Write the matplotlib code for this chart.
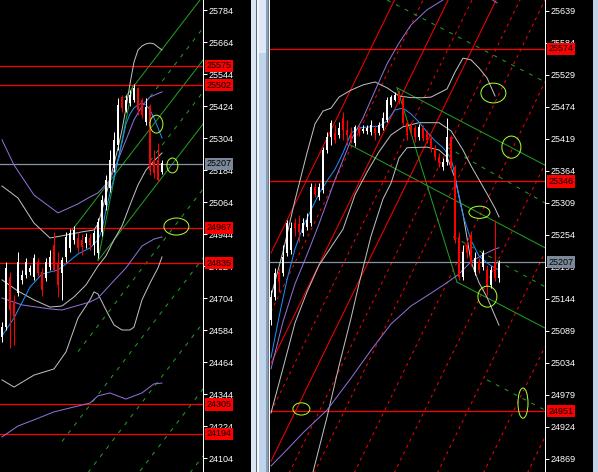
from matplotlib import pyplot as plt
from matplotlib.patches import Ellipse, Rectangle
import numpy as np

plt.rcParams['font.family'] = ['Liberation Sans', 'DejaVu Sans']
plt.rcParams['font.size'] = 6.5

W, H = 598, 472

# ---------------- left chart ----------------
l_open = [24558, 24595, 24783, 24685, 24723, 24772, 24790, 24802, 24783, 24839, 24802, 24779, 24820, 24903,
          24835, 24798, 24858, 24892, 24922, 24929, 24922, 24910, 24929, 24903, 24873, 24952, 25053, 25117,
          25192, 25278, 25458, 25409, 25435, 25447, 25492, 25447, 25364, 25424, 25222, 25222, 25177]
l_high = [24614, 24839, 24802, 24715, 24877, 24809, 24854, 24828, 24869, 24854, 24817, 24854, 24884, 24952,
          24877, 24858, 24952, 24963, 24974, 24952, 24944, 24948, 24944, 24959, 25004, 25090, 25165, 25259,
          25327, 25454, 25465, 25465, 25484, 25507, 25495, 25454, 25454, 25432, 25259, 25285, 25222]
l_low = [24539, 24584, 24517, 24528, 24712, 24757, 24779, 24790, 24772, 24787, 24712, 24768, 24809, 24802,
         24708, 24697, 24839, 24877, 24907, 24877, 24865, 24892, 24884, 24865, 24854, 24937, 25034, 25102,
         25177, 25259, 25402, 25402, 25424, 25439, 25390, 25379, 25353, 25165, 25154, 25139, 25169]
l_close = [24595, 24817, 24659, 24633, 24839, 24790, 24839, 24817, 24854, 24798, 24734, 24839, 24858, 24809,
           24753, 24847, 24933, 24948, 24959, 24892, 24895, 24933, 24903, 24948, 24989, 25072, 25146, 25221,
           25297, 25428, 25417, 25447, 25465, 25492, 25409, 25390, 25420, 25184, 25173, 25147, 25210]

l_up_x = [0, 4, 8, 12, 16, 20, 23, 24, 25, 26, 27, 28, 29, 30, 31, 32, 33, 34, 35, 36, 37, 38, 39, 40]
l_up = [25124, 25079, 24985, 24929, 24940, 24952, 24959, 24982, 25034, 25090, 25147, 25207, 25267, 25334,
        25417, 25507, 25589, 25634, 25649, 25657, 25660, 25657, 25645, 25634]
l_mid_x = [0, 4, 8, 12, 15, 18, 21, 24, 26, 28, 30, 32, 34, 36, 38, 40]
l_mid = [24772, 24730, 24697, 24670, 24674, 24708, 24753, 24824, 24862, 24922, 24974, 25053, 25128, 25184,
         25218, 25248]
l_lo_x = [0, 3, 8, 13, 16, 19, 22, 23, 24, 26, 28, 30, 32, 33, 35, 37, 39, 40]
l_lo = [24397, 24370, 24415, 24438, 24502, 24629, 24697, 24727, 24719, 24659, 24603, 24584, 24584, 24595,
        24697, 24760, 24817, 24858]
l_ma_x = [0, 3, 7, 10, 14, 16, 19, 22, 24, 25, 26, 27, 28, 29, 30, 31, 32, 33, 34, 35, 36, 37, 38, 39, 40]
l_ma = [24562, 24629, 24745, 24794, 24809, 24832, 24869, 24892, 24922, 24959, 25034, 25098, 25154, 25222,
        25285, 25357, 25394, 25417, 25428, 25435, 25428, 25409, 25379, 25342, 25304]
l_p1_x = [0, 3, 8, 14, 19, 22, 24, 27, 30, 33, 35, 37, 40]
l_p1 = [25297, 25203, 25090, 25023, 25057, 25083, 25098, 25147, 25259, 25372, 25424, 25458, 25477]
l_p2_x = [0, 5, 12, 15, 22, 24, 27, 31, 35, 38, 40]
l_p2 = [24704, 24678, 24663, 24659, 24689, 24704, 24753, 24817, 24899, 24925, 24933]
l_p3_x = [0, 4, 8, 13, 19, 22, 24, 27, 31, 35, 38, 40]
l_p3 = [24183, 24224, 24247, 24277, 24299, 24310, 24337, 24348, 24325, 24348, 24382, 24385]

# trend lines: (bar1, price1, bar2, price2)
l_solid = [(24, 24846, 32.75, 25503), (30.75, 25456, 50.75, 25846),
           (17.5, 24958, 50.75, 25606), (24, 24844, 50.75, 25366)]
l_dashed = [(37, 25458, 50.75, 25726), (37, 25218, 50.75, 25486), (19, 24503, 50.75, 25122),
            (15, 24166, 50.75, 24863), (21.5, 24049, 50.75, 24620), (34.5, 24055, 50.75, 24372),
            (47, 24048, 50.75, 24121)]
l_ellipses = [(38.6, 25356, 3.25, 67), (42.6, 25201, 2.75, 56), (43.6, 24972, 6.25, 64)]

l_ticks = [24104, 24224, 24344, 24464, 24584, 24704, 24824, 24944, 25064, 25184, 25304, 25424, 25544,
           25664, 25784]
l_levels = [25575, 25502, 24967, 24835, 24305, 24194]
l_last = 25207

# ---------------- right chart ----------------
r_open = [25108, 25147, 25190, 25188, 25223, 25228, 25275, 25273, 25257, 25268, 25275, 25337, 25319, 25331,
          25400, 25422, 25429, 25426, 25455, 25435, 25429, 25412, 25438, 25433, 25433, 25431, 25438, 25429,
          25438, 25452, 25477, 25486, 25495, 25489, 25447, 25443, 25438, 25422, 25438, 25431, 25421, 25404,
          25388, 25371, 25380, 25422, 25371, 25250, 25182, 25237, 25254, 25190, 25208, 25199, 25194, 25168,
          25206, 25180]
r_high = [25160, 25197, 25197, 25236, 25280, 25276, 25283, 25288, 25283, 25292, 25343, 25343, 25343, 25405,
          25431, 25452, 25443, 25448, 25465, 25452, 25440, 25443, 25443, 25443, 25443, 25452, 25443, 25448,
          25465, 25491, 25495, 25500, 25503, 25493, 25452, 25448, 25443, 25445, 25443, 25434, 25426, 25409,
          25395, 25386, 25455, 25426, 25374, 25259, 25237, 25245, 25259, 25224, 25215, 25228, 25202, 25201,
          25280, 25211]
r_low = [25099, 25142, 25156, 25183, 25218, 25221, 25252, 25242, 25252, 25263, 25270, 25319, 25314, 25326,
         25395, 25408, 25412, 25420, 25417, 25409, 25412, 25407, 25424, 25429, 25428, 25426, 25417, 25426,
         25434, 25448, 25474, 25484, 25479, 25443, 25417, 25426, 25414, 25417, 25416, 25412, 25397, 25383,
         25371, 25366, 25374, 25366, 25240, 25177, 25177, 25214, 25200, 25185, 25189, 25194, 25151, 25163,
         25175, 25173]
r_close = [25147, 25188, 25173, 25216, 25275, 25266, 25266, 25259, 25275, 25280, 25337, 25324, 25337, 25400,
           25422, 25446, 25417, 25438, 25435, 25426, 25417, 25440, 25429, 25436, 25438, 25443, 25429, 25443,
           25455, 25486, 25491, 25495, 25486, 25447, 25431, 25434, 25422, 25440, 25421, 25417, 25404, 25388,
           25378, 25380, 25422, 25371, 25245, 25182, 25225, 25223, 25206, 25214, 25194, 25223, 25165, 25194,
           25180, 25206]

r_ma_x = [0, 2, 4, 6, 8, 10, 12, 14, 16, 18, 20, 22, 25, 27, 29, 31, 33, 35, 37, 39, 41, 43, 45, 46, 47, 48,
          50, 52, 54, 56, 57]
r_ma = [25043, 25113, 25177, 25230, 25268, 25297, 25325, 25347, 25367, 25395, 25429, 25438, 25440, 25441,
        25450, 25469, 25472, 25462, 25448, 25431, 25416, 25404, 25386, 25357, 25319, 25288, 25245, 25218,
        25206, 25197, 25194]
r_up_x = [0, 3, 6, 9, 11, 13, 15, 17, 20, 23, 26, 29, 32, 35, 38, 40, 42, 44, 46, 48, 50, 52, 54, 56]
r_up = [25149, 25225, 25314, 25395, 25445, 25467, 25472, 25491, 25503, 25512, 25517, 25507, 25493, 25490,
        25490, 25491, 25498, 25505, 25534, 25558, 25555, 25541, 25524, 25493]
r_mid_x = [0, 3, 6, 9, 12, 15, 18, 21, 24, 27, 30, 33, 37, 42, 45, 48, 50, 52, 54, 56, 57]
r_mid = [24948, 25025, 25103, 25156, 25202, 25233, 25264, 25323, 25362, 25397, 25426, 25440, 25447, 25447,
         25433, 25400, 25373, 25349, 25325, 25300, 25285]
r_lo_x = [10, 11, 14, 17, 20, 22, 25, 28, 30, 32, 34, 39, 42, 44, 46, 48, 49, 50, 52, 54, 56, 57]
r_lo = [24833, 24860, 24941, 25029, 25111, 25170, 25252, 25316, 25343, 25386, 25404, 25405, 25400, 25388,
        25352, 25290, 25249, 25208, 25172, 25147, 25115, 25099]
r_p1_x = [0, 3, 6, 9, 12, 16, 20, 23, 26, 29, 32, 35, 39, 43, 45]
r_p1 = [25024, 25105, 25170, 25220, 25273, 25349, 25417, 25455, 25502, 25548, 25584, 25615, 25641, 25658, 25667]
r_p2_x = [0, 4, 8, 14, 20, 25, 30, 35, 40, 44, 47, 50, 53, 56, 57]
r_p2 = [24857, 24885, 24914, 24953, 25008, 25056, 25101, 25132, 25154, 25172, 25187, 25208, 25220, 25230, 25232]
r_p3_x = [54.5, 56.5]
r_p3 = [25662, 25653]

r_green_solid = [(31.5, 25507, 68.5, 25374), (31.5, 25507, 46.5, 25173), (46.5, 25173, 68.5, 25094),
                 (19.75, 25409, 68.5, 25232)]
r_green_dashed = [(29, 25658, 68.5, 25517), (44, 25405, 68.5, 25309), (45.5, 25251, 68.5, 25165),
                  (54, 25005, 68.5, 24953)]
r_red_solid = [(0, 25223, 68.5, 26188), (0, 25034, 68.5, 25999), (0, 24865, 68.5, 25830)]
r_red_dashed = [(0, 25122, 68.5, 26087), (0, 24950, 68.5, 25915),
                (0, 24781, 68.5, 25746), (0, 24693, 68.5, 25658), (0, 24552, 68.5, 25517),
                (0, 24411, 68.5, 25376), (0, 24259, 68.5, 25224), (0, 24097, 68.5, 25062),
                (0, 23942, 68.5, 24907)]
r_ellipses = [(55.6, 25498, 6.25, 34), (60.1, 25405, 4.75, 38), (52.1, 25293, 5.25, 21),
              (54.1, 25148, 4.75, 36), (7.6, 24955, 4.25, 21), (63.0, 24965, 2.5, 52)]

r_ticks = [24869, 24924, 24979, 25034, 25089, 25144, 25199, 25254, 25309, 25364, 25419, 25474, 25529,
           25584, 25639]
r_levels = [25574, 25346, 24951]
r_last = 25207

GREEN = '#22a022'
LW = 0.72  # one pixel at 100 dpi
LEVEL_LW = 0.9


def candles(ax, o, h, l, c, min_h):
    o, h, l, c = map(np.asarray, (o, h, l, c))
    x = np.arange(len(o))
    cols = np.where(c >= o, '#ffffff', '#ff0000')
    ax.vlines(x, l, h, colors=cols, lw=LW, zorder=5, snap=True)
    ax.bar(x, np.maximum(np.abs(c - o), min_h), bottom=np.minimum(o, c), width=0.7,
           color=cols, linewidth=0, zorder=6, snap=True)


def segs(ax, lines, color, ls):
    for b1, p1, b2, p2 in lines:
        ax.plot([b1, b2], [p1, p2], color=color, lw=LW, ls=ls, zorder=3)


def style(ax, ticks, levels, last):
    ax.set_facecolor('black')
    for s in ['left', 'top', 'bottom']:
        ax.spines[s].set_visible(False)
    ax.spines['right'].set_color('white')
    ax.spines['right'].set_linewidth(LW)
    ax.yaxis.tick_right()
    ax.set_yticks(ticks)
    ax.set_yticklabels([str(t) for t in ticks])
    ax.tick_params(axis='y', colors='white', length=3, width=LW, pad=1, labelsize=6.5)
    ax.tick_params(axis='x', bottom=False, labelbottom=False)
    tr = ax.get_yaxis_transform()
    for v in levels:
        ax.axhline(v, color='#ff0000', lw=LEVEL_LW, zorder=4)
        ax.annotate(str(v), xy=(1, v), xycoords=tr, xytext=(2.3, 0), textcoords='offset points',
                    ha='left', va='center', color='black', fontsize=6.5, annotation_clip=False,
                    bbox=dict(boxstyle='square,pad=0.18', fc='#ff0000', ec='none'))
    ax.axhline(last, color='#8796a6', lw=LEVEL_LW, zorder=4)
    ax.annotate(str(last), xy=(1, last), xycoords=tr, xytext=(2.3, 0), textcoords='offset points',
                ha='left', va='center', color='black', fontsize=6.5, annotation_clip=False,
                bbox=dict(boxstyle='square,pad=0.18', fc='#7a8899', ec='none'))


fig = plt.figure(figsize=(W / 100, H / 100), dpi=100, facecolor='black')

# left panel
axl = fig.add_axes([0, 0, 203 / W, 1])
axl.set_xlim(-0.5, 50.25)
axl.set_ylim(24051.5, 25821.5)
style(axl, l_ticks, l_levels, l_last)
for xs, ys, col in [(l_up_x, l_up, '#c0c0c0'), (l_mid_x, l_mid, '#c0c0c0'), (l_lo_x, l_lo, '#c0c0c0'),
                    (l_p1_x, l_p1, '#9370db'), (l_p2_x, l_p2, '#9370db'), (l_p3_x, l_p3, '#9370db'),
                    (l_ma_x, l_ma, '#1e90ff')]:
    axl.plot(xs, ys, color=col, lw=LW, zorder=4)
segs(axl, l_solid, GREEN, '-')
segs(axl, l_dashed, GREEN, (0, (4, 6)))
candles(axl, l_open, l_high, l_low, l_close, 4)
for bx, py, w, h in l_ellipses:
    axl.add_patch(Ellipse((bx, py), w, h, fill=False, ec='#adff2f', lw=LW, zorder=8))

# right panel
axr = fig.add_axes([270 / W, 0, 275 / W, 1])
axr.set_xlim(-0.25, 68.5)
axr.set_ylim(24846.6, 25657.9)
style(axr, r_ticks, r_levels, r_last)
segs(axr, r_red_solid, '#ff0000', '-')
segs(axr, r_red_dashed, '#ff0000', (0, (3, 4)))
for xs, ys, col in [(r_up_x, r_up, '#c0c0c0'), (r_mid_x, r_mid, '#c0c0c0'), (r_lo_x, r_lo, '#c0c0c0'),
                    (r_p1_x, r_p1, '#9370db'), (r_p2_x, r_p2, '#9370db'), (r_p3_x, r_p3, '#9370db'),
                    (r_ma_x, r_ma, '#1e90ff')]:
    axr.plot(xs, ys, color=col, lw=LW, zorder=4)
segs(axr, r_green_solid, GREEN, '-')
segs(axr, r_green_dashed, GREEN, (0, (4, 6)))
candles(axr, r_open, r_high, r_low, r_close, 2)
for bx, py, w, h in r_ellipses:
    axr.add_patch(Ellipse((bx, py), w, h, fill=False, ec='#adff2f', lw=LW, zorder=8))

# window frame between and beside the charts
for x0, x1, col in [(251, 256, '#dbe6f3'), (256, 257, '#5a6a7a'), (257, 259, '#f4f7fb'),
                    (259, 266, '#bfd3ea'), (266, 268, '#8a9db3'), (268, 269, '#6b7a8c'),
                    (269, 270, '#ffffff'), (593, 598, '#bfd3ea')]:
    fig.add_artist(Rectangle((x0 / W, 0), (x1 - x0) / W, 1, transform=fig.transFigure,
                             color=col, lw=0, zorder=10))
fig.add_artist(Rectangle((259 / W, 1 - 53 / H), 7 / W, 53 / H, transform=fig.transFigure,
                         color='#dde9f6', lw=0, zorder=11))

fig.savefig('out.png', dpi=100, facecolor='black')
